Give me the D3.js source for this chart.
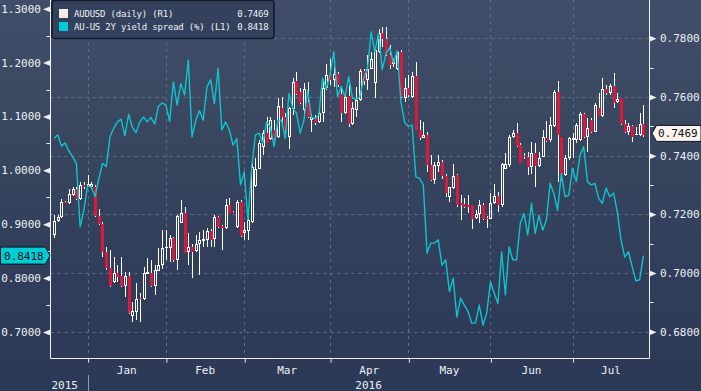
<!DOCTYPE html>
<html><head><meta charset="utf-8">
<script src="https://cdn.jsdelivr.net/npm/d3@7"></script>
<style>
html,body{margin:0;padding:0;background:#2c3a57;overflow:hidden;}
svg{display:block;}
text{font-family:"DejaVu Sans Mono","Liberation Mono",monospace;}
</style></head><body>
<svg id="chart" width="701" height="391"></svg>
<script>
// ---------- DATA ----------
const seriesNames = ["AUDUSD (daily) (R1)", "AU-US 2Y yield spread (%) (L1)"];
const lastValues = ["0.7469", "0.8418"];
const firstDay = "2015-12-21", lastDay = "2016-07-28";
const monthLabels = ["Jan","Feb","Mar","Apr","May","Jun","Jul"];
const yearLabels = ["2015","2016"];
const leftTicks = [0.7,0.8,0.9,1.0,1.1,1.2,1.3];
const leftMinor = [0.75,0.85,0.95,1.05,1.15,1.25];
const rightTicks = [0.68,0.70,0.72,0.74,0.76,0.78];
const rightMinor = [0.69,0.71,0.73,0.75,0.77];

const open = [
.7129,.7178,.7192,.7243,.7237,.7266,.7285,.7251,.7300,.7294,
.7294,.7292,.7194,.7167,.7073,.7016,.6970,.6999,.6990,.6955,
.6990,.6854,.6868,.6916,.6910,.6996,.7001,.6955,.7008,.7027,
.7084,.7086,.7120,.7044,.7171,.7205,.7073,.7090,.7075,.7098,
.7110,.7112,.7143,.7115,.7192,.7160,.7152,.7232,.7209,.7158,
.7243,.7135,.7144,.7175,.7296,.7356,.7430,.7476,.7458,.7489,
.7462,.7561,.7533,.7462,.7558,.7654,.7618,.7555,.7584,.7523,
.7530,.7516,.7546,.7629,.7675,.7658,.7680,.7610,.7546,.7603,
.7508,.7555,.7589,.7689,.7658,.7697,.7646,.7754,.7817,.7796,
.7743,.7711,.7697,.7752,.7595,.7629,.7601,.7671,.7487,.7459,
.7470,.7368,.7317,.7366,.7379,.7330,.7260,.7291,.7334,.7237,
.7234,.7232,.7232,.7186,.7200,.7232,.7189,.7184,.7237,.7262,
.7232,.7356,.7368,.7462,.7476,.7436,.7399,.7394,.7362,.7410,
.7366,.7396,.7461,.7453,.7501,.7618,.7462,.7334,.7391,.7453,
.7455,.7453,.7542,.7464,.7523,.7481,.7564,.7536,.7626,.7612,
.7637,.7584,.7595,.7508,.7481,.7501,.7470,.7470,.7508];
const high = [
.7197,.7197,.7251,.7247,.7288,.7292,.7292,.7309,.7309,.7334,
.7311,.7300,.7217,.7175,.7090,.7078,.7053,.7027,.7055,.7004,
.7004,.6902,.6965,.6931,.7021,.7050,.7044,.7027,.7084,.7146,
.7146,.7129,.7124,.7197,.7249,.7226,.7135,.7098,.7129,.7141,
.7146,.7154,.7149,.7197,.7194,.7163,.7251,.7254,.7211,.7249,
.7249,.7175,.7192,.7374,.7391,.7453,.7487,.7533,.7533,.7521,
.7595,.7601,.7544,.7567,.7663,.7686,.7629,.7648,.7652,.7542,
.7538,.7550,.7652,.7714,.7728,.7703,.7686,.7637,.7618,.7640,
.7584,.7635,.7697,.7694,.7743,.7754,.7771,.7830,.7837,.7837,
.7777,.7731,.7757,.7760,.7663,.7675,.7686,.7720,.7521,.7516,
.7481,.7402,.7379,.7402,.7385,.7339,.7294,.7370,.7339,.7266,
.7254,.7266,.7232,.7214,.7249,.7240,.7194,.7274,.7303,.7277,
.7374,.7408,.7470,.7487,.7510,.7442,.7410,.7413,.7447,.7444,
.7413,.7487,.7519,.7533,.7623,.7654,.7464,.7402,.7464,.7476,
.7510,.7550,.7544,.7527,.7530,.7578,.7612,.7663,.7640,.7644,
.7682,.7612,.7598,.7521,.7510,.7504,.7496,.7544,.7572];
const low = [
.7118,.7175,.7188,.7237,.7235,.7262,.7249,.7249,.7288,.7292,
.7288,.7192,.7163,.7055,.7010,.6953,.6965,.6970,.6953,.6919,
.6862,.6834,.6840,.6834,.6908,.6996,.6953,.6925,.7008,.7013,
.7044,.7038,.7038,.7010,.7171,.7067,.7027,.6982,.7073,.6993,
.7090,.7090,.7087,.7090,.7154,.7078,.7150,.7203,.7203,.7152,
.7124,.7112,.7112,.7169,.7294,.7353,.7402,.7442,.7453,.7455,
.7459,.7496,.7481,.7421,.7538,.7606,.7576,.7530,.7530,.7481,
.7504,.7510,.7516,.7623,.7640,.7635,.7635,.7516,.7542,.7498,
.7504,.7533,.7587,.7640,.7623,.7694,.7595,.7751,.7771,.7739,
.7697,.7703,.7692,.7598,.7584,.7601,.7595,.7487,.7453,.7459,
.7345,.7314,.7305,.7345,.7322,.7260,.7243,.7288,.7226,.7180,
.7220,.7203,.7149,.7183,.7169,.7180,.7155,.7183,.7235,.7209,
.7226,.7353,.7362,.7459,.7430,.7374,.7390,.7334,.7339,.7292,
.7362,.7394,.7447,.7447,.7498,.7311,.7313,.7330,.7385,.7391,
.7444,.7451,.7459,.7413,.7478,.7479,.7535,.7533,.7606,.7606,
.7564,.7578,.7504,.7478,.7470,.7447,.7470,.7467,.7464];
const close = [
.7178,.7192,.7241,.7237,.7269,.7285,.7251,.7300,.7292,.7305,
.7305,.7194,.7167,.7073,.7016,.6955,.6999,.6987,.6955,.6990,
.6865,.6870,.6913,.6910,.7001,.7004,.6955,.7010,.7029,.7086,
.7090,.7120,.7044,.7194,.7205,.7069,.7090,.7073,.7098,.7112,
.7115,.7143,.7112,.7192,.7158,.7152,.7232,.7205,.7203,.7243,
.7126,.7146,.7180,.7362,.7356,.7444,.7476,.7444,.7521,.7458,
.7569,.7533,.7487,.7561,.7652,.7610,.7580,.7626,.7533,.7533,
.7510,.7547,.7629,.7675,.7658,.7680,.7640,.7546,.7601,.7508,
.7561,.7589,.7689,.7654,.7697,.7728,.7760,.7817,.7796,.7743,
.7709,.7718,.7752,.7601,.7629,.7606,.7671,.7489,.7459,.7470,
.7368,.7317,.7368,.7379,.7330,.7274,.7292,.7330,.7232,.7232,
.7226,.7226,.7184,.7201,.7232,.7183,.7184,.7237,.7262,.7232,
.7371,.7371,.7464,.7476,.7433,.7376,.7394,.7362,.7410,.7364,
.7391,.7462,.7451,.7504,.7618,.7470,.7339,.7391,.7459,.7459,
.7504,.7542,.7464,.7493,.7481,.7572,.7535,.7626,.7612,.7637,
.7580,.7594,.7508,.7481,.7501,.7464,.7473,.7508,.7469];
const spread = [
1.059,1.066,1.045,1.051,1.036,1.025,1.013,0.895,0.926,0.971,
0.969,0.951,0.984,1.013,1.007,1.062,1.078,1.090,1.095,1.064,
1.104,1.080,1.070,1.090,1.099,1.090,1.098,1.086,1.119,1.125,
1.121,1.091,1.164,1.121,1.161,1.140,1.205,1.062,1.093,1.111,
1.093,1.155,1.168,1.124,1.189,1.075,1.090,1.075,1.047,1.059,
0.973,0.997,0.908,1.007,1.066,1.069,1.050,1.090,1.080,1.044,
1.093,1.093,1.059,1.143,1.115,1.106,1.069,1.093,1.148,1.099,
1.096,1.103,1.171,1.152,1.177,1.220,1.137,1.155,1.137,1.174,
1.134,1.132,1.137,1.171,1.186,1.257,1.220,1.254,1.187,1.217,
1.228,1.199,1.222,1.127,1.089,1.082,1.084,0.988,0.985,0.973,
0.846,0.865,0.865,0.871,0.824,0.834,0.775,0.800,0.728,0.763,
0.750,0.738,0.716,0.717,0.750,0.713,0.735,0.793,0.772,0.753,
0.849,0.769,0.858,0.834,0.834,0.902,0.920,0.880,0.939,0.883,
0.917,0.889,0.908,0.976,0.957,0.926,0.994,0.951,0.954,1.004,
0.979,1.028,1.044,0.979,0.973,0.976,0.948,0.939,0.967,0.951,
0.958,0.923,0.871,0.839,0.849,0.821,0.795,0.797,0.8418];

// ---------- CHART ----------
const W = 701, H = 391;
const L = 50.5, R = 649.5, T = 0, B = 358.5;
const parse = d3.timeParse("%Y-%m-%d");
const days = d3.timeDays(parse(firstDay), d3.timeDay.offset(parse(lastDay), 1))
  .filter(d => d.getDay() !== 0 && d.getDay() !== 6);
const n = days.length;

const svg = d3.select("#chart");
const defs = svg.append("defs");
const grad = defs.append("linearGradient").attr("id","bg").attr("x1",0).attr("y1",0).attr("x2",0).attr("y2",1);
[[0,"#414e6a"],[0.35,"#38465f"],[0.7,"#303e5b"],[1,"#2b3957"]].forEach(s =>
  grad.append("stop").attr("offset", s[0]).attr("stop-color", s[1]));
defs.append("clipPath").attr("id","plotclip").append("rect")
  .attr("x", L).attr("y", T).attr("width", R - L).attr("height", B - T);

svg.append("rect").attr("width", W).attr("height", H).attr("fill", "url(#bg)");

const x = d3.scaleLinear().domain([0, n - 1]).range([54, 643.4]);
const yL = d3.scaleLinear().domain([0.7, 1.3]).range([332, 8.7]);
const yR = d3.scaleLinear().domain([0.68, 0.78]).range([331.7, 38.3]);

// month starts
const monthIdx = [];
days.forEach((d, i) => { if (i > 0 && d.getMonth() !== days[i-1].getMonth()) monthIdx.push(i); });

const gridColor = "#5b7090";
const grid = svg.append("g");
grid.selectAll("line.h").data(rightTicks).join("line")
  .attr("x1", L).attr("x2", R)
  .attr("y1", d => Math.round(yR(d)) + 0.5).attr("y2", d => Math.round(yR(d)) + 0.5)
  .attr("stroke", gridColor).attr("stroke-dasharray", "3,4");
grid.selectAll("line.v").data(monthIdx).join("line")
  .attr("x1", i => Math.round(x(i)) + 0.5).attr("x2", i => Math.round(x(i)) + 0.5)
  .attr("y1", T).attr("y2", B)
  .attr("stroke", gridColor).attr("stroke-dasharray", "3,4");

// candles
const cg = svg.append("g").attr("clip-path", "url(#plotclip)").attr("shape-rendering", "crispEdges");
const idx = d3.range(n);
idx.forEach(i => {
  const cx = Math.round(x(i));
  const up = close[i] >= open[i];
  const yTop = Math.round(yR(Math.max(open[i], close[i])));
  const yBot = Math.max(Math.round(yR(Math.min(open[i], close[i]))), yTop + 1);
  const yH = Math.round(yR(high[i])), yLo = Math.round(yR(low[i]));
  const g = cg.append("g");
  if (yH < yTop) g.append("line").attr("x1", cx + 0.5).attr("x2", cx + 0.5).attr("y1", yH).attr("y2", yTop).attr("stroke", "#ffffff");
  if (yLo > yBot) g.append("line").attr("x1", cx + 0.5).attr("x2", cx + 0.5).attr("y1", yBot).attr("y2", yLo).attr("stroke", "#ffffff");
  if (up) {
    g.append("rect").attr("x", cx - 0.5).attr("y", yTop + 0.5).attr("width", 2).attr("height", Math.max(yBot - yTop - 1, 0.01))
      .attr("fill", "none").attr("stroke", "#ffffff");
  } else {
    g.append("rect").attr("x", cx - 1).attr("y", yTop).attr("width", 3).attr("height", Math.max(yBot - yTop, 1))
      .attr("fill", "#e0173c");
  }
});

// spread line
svg.append("path").datum(idx).attr("clip-path", "url(#plotclip)")
  .attr("fill", "none").attr("stroke", "#0fc4cc").attr("stroke-width", 1.4).attr("stroke-linejoin", "round")
  .attr("d", d3.line().x(i => x(i)).y(i => yL(spread[i])));

// frame
const axisColor = "#eef0f4";
svg.append("path").attr("d", `M${L},${T}V${B}H${R}V${T}`).attr("fill", "none").attr("stroke", axisColor).attr("stroke-width", 1);

// left axis
const la = svg.append("g").attr("transform", `translate(${L},0)`)
  .call(d3.axisLeft(yL).tickValues(leftTicks).tickFormat(d3.format(".4f")).tickSize(0).tickPadding(9.5));
la.select(".domain").remove();
la.selectAll("text").attr("fill", axisColor).attr("font-size", 11).attr("font-family", '"DejaVu Sans Mono",monospace');
la.selectAll(".tick").append("path").attr("d", "M0,-3L-7.5,0L0,3Z").attr("fill", axisColor);
svg.append("g").selectAll("line").data(leftMinor).join("line")
  .attr("x1", L - 4).attr("x2", L).attr("y1", d => Math.round(yL(d)) + 0.5).attr("y2", d => Math.round(yL(d)) + 0.5)
  .attr("stroke", axisColor);

// right axis
const ra = svg.append("g").attr("transform", `translate(${R},0)`)
  .call(d3.axisRight(yR).tickValues(rightTicks).tickFormat(d3.format(".4f")).tickSize(0).tickPadding(10.5));
ra.select(".domain").remove();
ra.selectAll("text").attr("fill", axisColor).attr("font-size", 11).attr("font-family", '"DejaVu Sans Mono",monospace');
ra.selectAll(".tick").append("path").attr("d", "M0,-3L7,0L0,3Z").attr("fill", axisColor);
svg.append("g").selectAll("line").data(rightMinor).join("line")
  .attr("x1", R).attr("x2", R + 4).attr("y1", d => Math.round(yR(d)) + 0.5).attr("y2", d => Math.round(yR(d)) + 0.5)
  .attr("stroke", axisColor);

// bottom axis
const xa = svg.append("g").attr("transform", `translate(0,${B})`)
  .call(d3.axisBottom(x).tickValues(monthIdx).tickFormat("").tickSize(4).tickSizeOuter(0));
xa.select(".domain").remove();
xa.selectAll("line").attr("stroke", axisColor).attr("transform", "translate(0.5,0)");
const edges = monthIdx.map(i => x(i)).concat([R]);
svg.append("g").selectAll("text").data(monthLabels).join("text")
  .attr("x", (d, k) => (edges[k] + edges[k+1]) / 2).attr("y", 374)
  .attr("text-anchor", "middle").attr("font-size", 11).attr("fill", axisColor).text(d => d);
svg.append("text").attr("x", L + 1).attr("y", 389).attr("font-size", 11).attr("fill", axisColor).text(yearLabels[0]);
svg.append("text").attr("x", (x(monthIdx[0]) + R) / 2).attr("y", 389).attr("text-anchor", "middle")
  .attr("font-size", 11).attr("fill", axisColor).text(yearLabels[1]);
svg.append("line").attr("x1", Math.round(x(monthIdx[0])) + 0.5).attr("x2", Math.round(x(monthIdx[0])) + 0.5)
  .attr("y1", 375).attr("y2", H).attr("stroke", "#8f9ab0");

// value tags
const lastSpread = spread[n - 1], lastClose = close[n - 1];
const ys = yL(lastSpread);
svg.append("path").attr("d", `M0.5,${ys - 8.5}H45.5L50,${ys}L45.5,${ys + 8.5}H0.5Z`)
  .attr("fill", "#00cdd4").attr("stroke", "#0c1626").attr("stroke-width", 1);
svg.append("text").attr("x", 4).attr("y", ys + 4).attr("font-size", 11).attr("fill", "#06121c").text(lastValues[1]);
const yc = yR(lastClose) - 2;
svg.append("path").attr("d", `M652,${yc}L656.5,${yc - 8}H701V${yc + 8}H656.5Z`)
  .attr("fill", "#fdf2ec").attr("stroke", "#0c1626").attr("stroke-width", 1);
svg.append("text").attr("x", 658).attr("y", yc + 4).attr("font-size", 11).attr("fill", "#06121c").text(lastValues[0]);

// legend
const lg = svg.append("g");
lg.append("rect").attr("x", 52).attr("y", 0.5).attr("width", 222).attr("height", 38).attr("rx", 3)
  .attr("fill", "#33415d").attr("stroke", "#131b2b").attr("stroke-width", 1.6);
const swatch = ["#f8ece6", "#00cdd4"];
seriesNames.forEach((s, k) => {
  const yy = 9 + k * 13;
  lg.append("rect").attr("x", 59).attr("y", yy).attr("width", 9).attr("height", 9).attr("fill", swatch[k]);
  lg.append("text").attr("x", 74).attr("y", yy + 8).attr("font-size", 9).attr("letter-spacing", -0.2)
    .attr("fill", "#eef0f4").text(s);
  lg.append("text").attr("x", 268.5).attr("y", yy + 8).attr("font-size", 9).attr("letter-spacing", -0.2)
    .attr("text-anchor", "end").attr("fill", "#eef0f4").text(lastValues[k]);
});
</script>
</body></html>
